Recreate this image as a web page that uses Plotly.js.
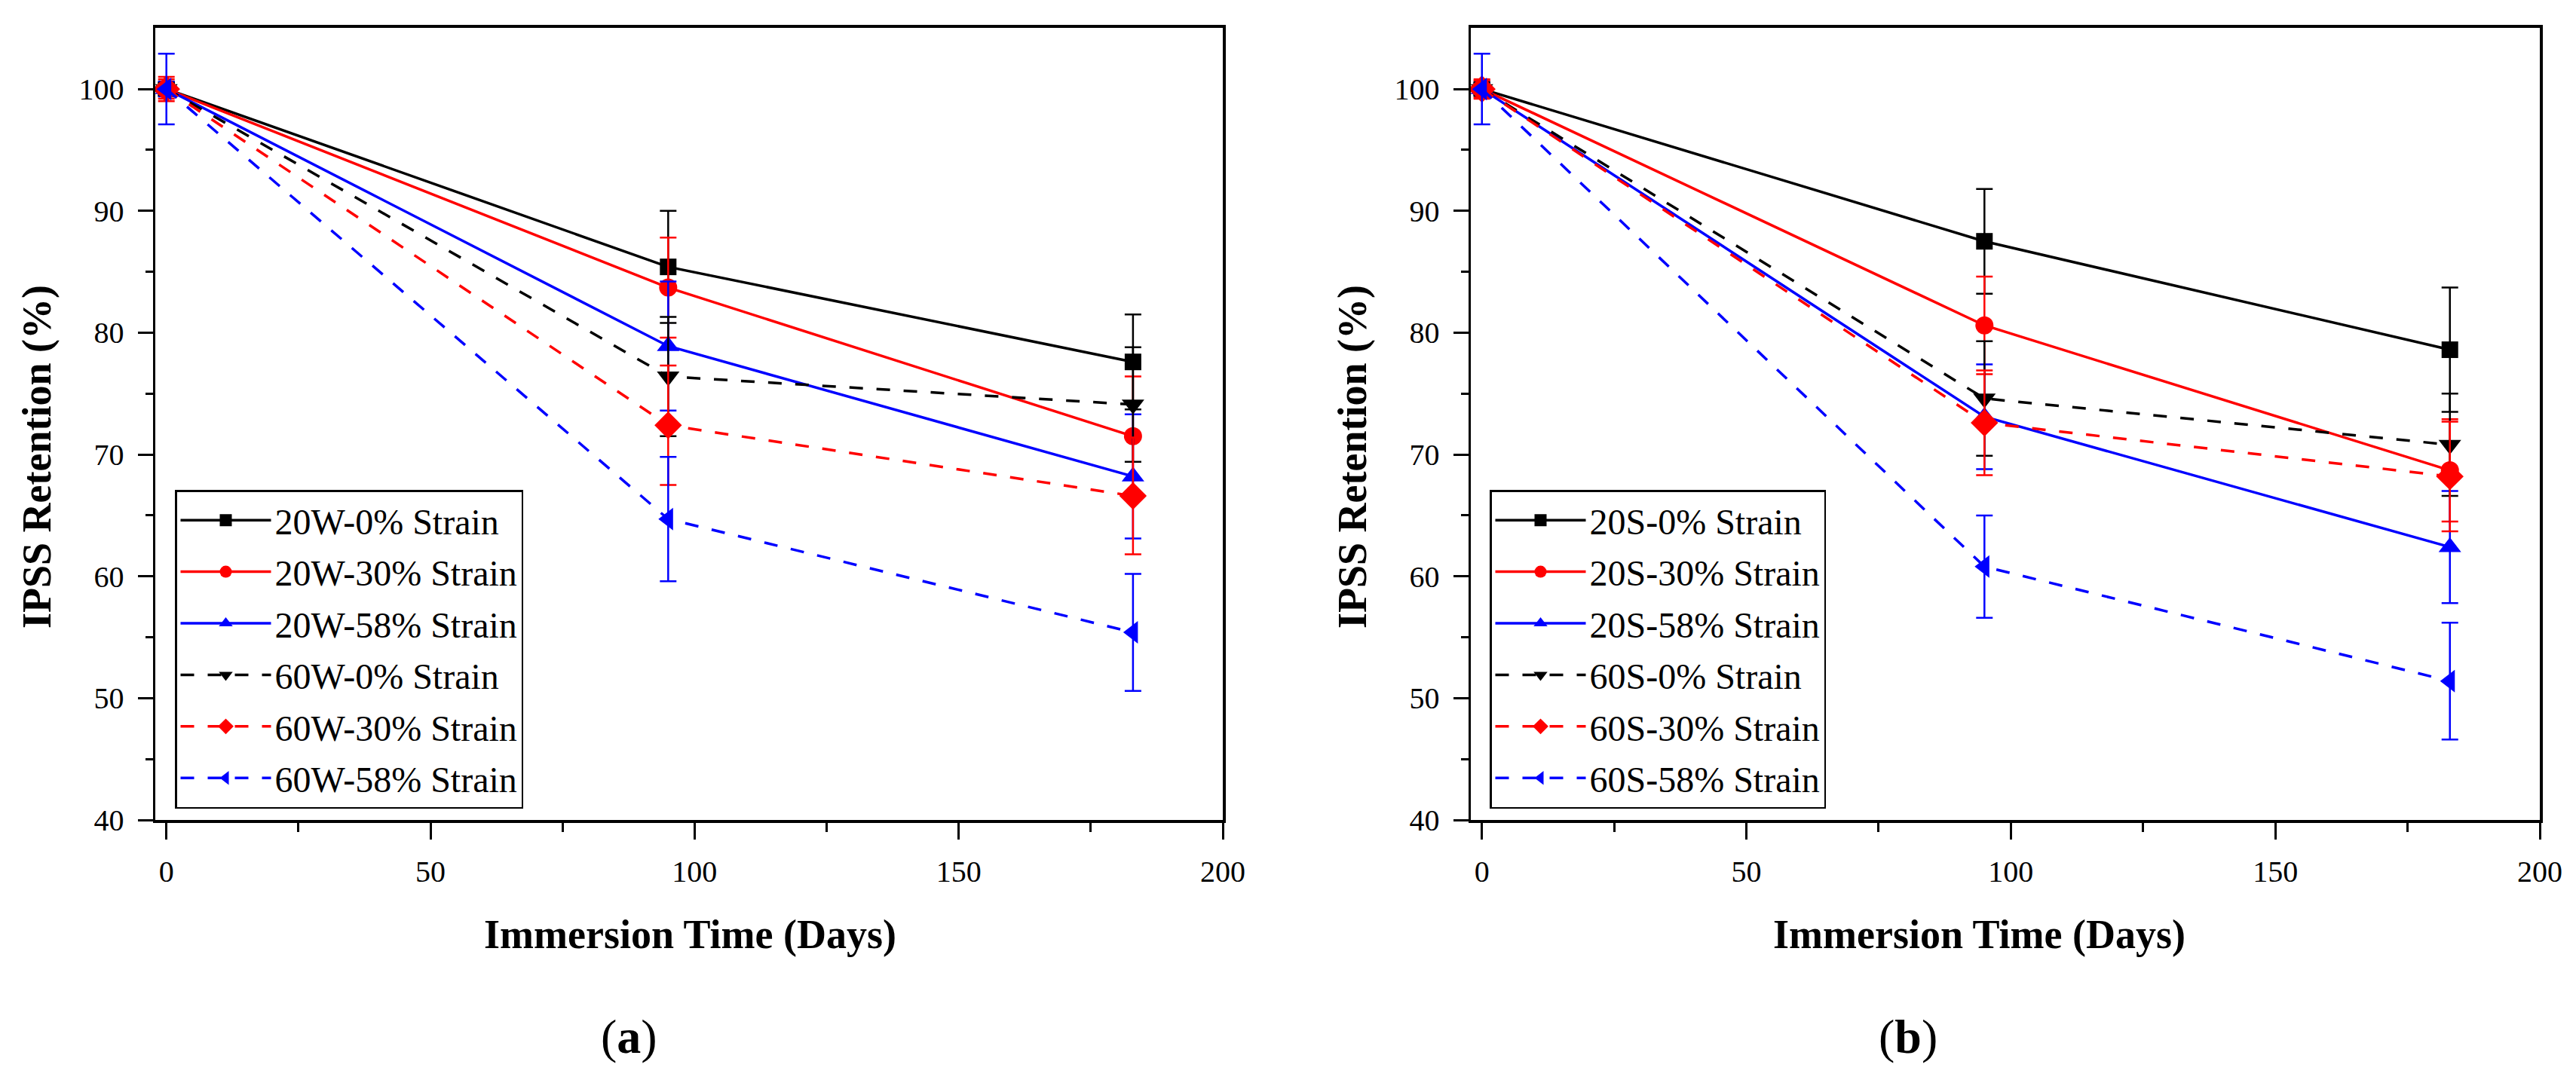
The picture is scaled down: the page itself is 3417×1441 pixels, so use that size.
<!DOCTYPE html>
<html>
<head>
<meta charset="utf-8">
<script src="https://cdn.plot.ly/plotly-3.0.1.min.js"></script>
<style>
	body { margin: 0; background: #ffffff; }
	#chart { width: 3417px; height: 1441px; }
</style>
</head>
<body>
<div id="chart"></div>
<script>
'use strict';

// immersion days
const days = [0, 95, 183];

// panel (a), W series: retention (%) and error bar half-widths
const w20_0 = [100, 85.4, 77.6];
const w20_0_err = [0.5, 4.6, 3.9];
const w20_30 = [100, 83.7, 71.5];
const w20_30_err = [0.8, 4.1, 4.9];
const w20_58 = [100, 78.9, 68.2];
const w20_58_err = [0.6, 5.3, 5.1];
const w60_0 = [100, 76.4, 74.1];
const w60_0_err = [0.5, 4.9, 4.7];
const w60_30 = [100, 72.4, 66.6];
const w60_30_err = [1.0, 4.9, 4.8];
const w60_58 = [100, 64.7, 55.4];
const w60_58_err = [2.9, 5.1, 4.8];

// panel (b), S series
const s20_0 = [100, 87.5, 78.6];
const s20_0_err = [0.5, 4.3, 5.1];
const s20_30 = [100, 80.6, 68.7];
const s20_30_err = [0.7, 4.0, 4.2];
const s20_58 = [100, 73.1, 62.4];
const s20_58_err = [0.5, 4.3, 4.6];
const s60_0 = [100, 74.6, 70.8];
const s60_0_err = [0.5, 4.7, 4.2];
const s60_30 = [100, 72.6, 68.2];
const s60_30_err = [0.8, 4.3, 4.5];
const s60_58 = [100, 60.8, 51.4];
const s60_58_err = [2.9, 4.2, 4.8];

const namesA = ['20W-0% Strain', '20W-30% Strain', '20W-58% Strain', '60W-0% Strain', '60W-30% Strain', '60W-58% Strain'];
const namesB = ['20S-0% Strain', '20S-30% Strain', '20S-58% Strain', '60S-0% Strain', '60S-30% Strain', '60S-58% Strain'];

const colors = ['#000000', '#ff0000', '#0000ff', '#000000', '#ff0000', '#0000ff'];
const symbols = ['square', 'circle', 'triangle-up', 'triangle-down', 'diamond', 'triangle-left'];
const markerSizes = [22, 24, 26, 26, 28, 26];
const dashes = ['solid', 'solid', 'solid', '18px,18px', '18px,18px', '18px,18px'];

const W = 3417;
const H = 1441;
const serif = 'Liberation Serif, Times New Roman, serif';

function makeTraces(values, errors, names, xa, ya, legendName, groupPrefix)
{
	const traces = [];
	for (let i = 0; i < values.length; ++i)
	{
		traces.push({
			x: days,
			y: values[i],
			name: names[i],
			type: 'scatter',
			mode: 'lines+markers',
			xaxis: xa,
			yaxis: ya,
			legend: legendName,
			legendgroup: groupPrefix + i,
			line: { color: colors[i], width: 3.5, dash: dashes[i] },
			marker: { color: colors[i], symbol: symbols[i], size: markerSizes[i], line: { width: 0 } },
			error_y: { type: 'data', array: errors[i], visible: true, color: colors[i], thickness: 2.5, width: 11 }
		});
	}
	return traces;
}

const tracesA = makeTraces(
	[w20_0, w20_30, w20_58, w60_0, w60_30, w60_58],
	[w20_0_err, w20_30_err, w20_58_err, w60_0_err, w60_30_err, w60_58_err],
	namesA, 'x', 'y', 'legend', 'a');

const tracesB = makeTraces(
	[s20_0, s20_30, s20_58, s60_0, s60_30, s60_58],
	[s20_0_err, s20_30_err, s20_58_err, s60_0_err, s60_30_err, s60_58_err],
	namesB, 'x2', 'y2', 'legend2', 'b');

// plot areas in pixels
const areaA = { left: 206, right: 1622 };
const areaB = { left: 1951, right: 3369 };
const plotTop = 36.5;
const plotBottom = 1088;

function xAxis(area, anchor)
{
	return {
		domain: [area.left / W, area.right / W],
		anchor: anchor,
		range: [-2.1, 200],
		tickvals: [0, 50, 100, 150, 200],
		ticks: 'outside',
		ticklen: 22,
		tickwidth: 3,
		tickcolor: '#000000',
		ticklabelstandoff: 8,
		minor: { tickvals: [25, 75, 125, 175], ticks: 'outside', ticklen: 12, tickwidth: 3, tickcolor: '#000000' },
		showline: true,
		linewidth: 3.5,
		linecolor: '#000000',
		mirror: true,
		showgrid: false,
		zeroline: false,
		tickfont: { family: serif, size: 40, color: '#000000' }
	};
}

function yAxis(anchor)
{
	return {
		domain: [1 - plotBottom / H, 1 - plotTop / H],
		anchor: anchor,
		range: [40, 105.05],
		tickvals: [40, 50, 60, 70, 80, 90, 100],
		ticks: 'outside',
		ticklen: 20,
		tickwidth: 3,
		tickcolor: '#000000',
		ticklabelstandoff: 10,
		minor: { tickvals: [45, 55, 65, 75, 85, 95], ticks: 'outside', ticklen: 10, tickwidth: 3, tickcolor: '#000000' },
		showline: true,
		linewidth: 3.5,
		linecolor: '#000000',
		mirror: true,
		showgrid: false,
		zeroline: false,
		tickfont: { family: serif, size: 40, color: '#000000' }
	};
}

function legendAt(px)
{
	return {
		x: px / W,
		y: 1 - 650 / H,
		xanchor: 'left',
		yanchor: 'top',
		bgcolor: '#ffffff',
		bordercolor: '#000000',
		borderwidth: 2.5,
		itemwidth: 120,
		tracegroupgap: 3,
		font: { family: serif, size: 48, color: '#000000' }
	};
}

function label(text, px, py, size, angle)
{
	return {
		text: text,
		xref: 'paper',
		yref: 'paper',
		x: px / W,
		y: 1 - py / H,
		xanchor: 'center',
		yanchor: 'middle',
		showarrow: false,
		textangle: angle || 0,
		font: { family: serif, size: size, color: '#000000' }
	};
}

const layout = {
	width: W,
	height: H,
	margin: { l: 0, r: 0, t: 0, b: 0 },
	paper_bgcolor: '#ffffff',
	plot_bgcolor: '#ffffff',
	showlegend: true,
	xaxis: xAxis(areaA, 'y'),
	yaxis: yAxis('x'),
	xaxis2: xAxis(areaB, 'y2'),
	yaxis2: yAxis('x2'),
	legend: legendAt(232),
	legend2: legendAt(1976),
	annotations: [
		label('<b>Immersion Time (Days)</b>', 915, 1240, 54),
		label('<b>Immersion Time (Days)</b>', 2625, 1240, 54),
		label('<b>IPSS Retention (%)</b>', 49, 606, 54, -90),
		label('<b>IPSS Retention (%)</b>', 1794, 606, 54, -90),
		label('(<b>a</b>)', 834, 1375, 64),
		label('(<b>b</b>)', 2531, 1375, 64)
	]
};

Plotly.newPlot('chart', tracesA.concat(tracesB), layout, { staticPlot: true });
</script>
</body>
</html>
